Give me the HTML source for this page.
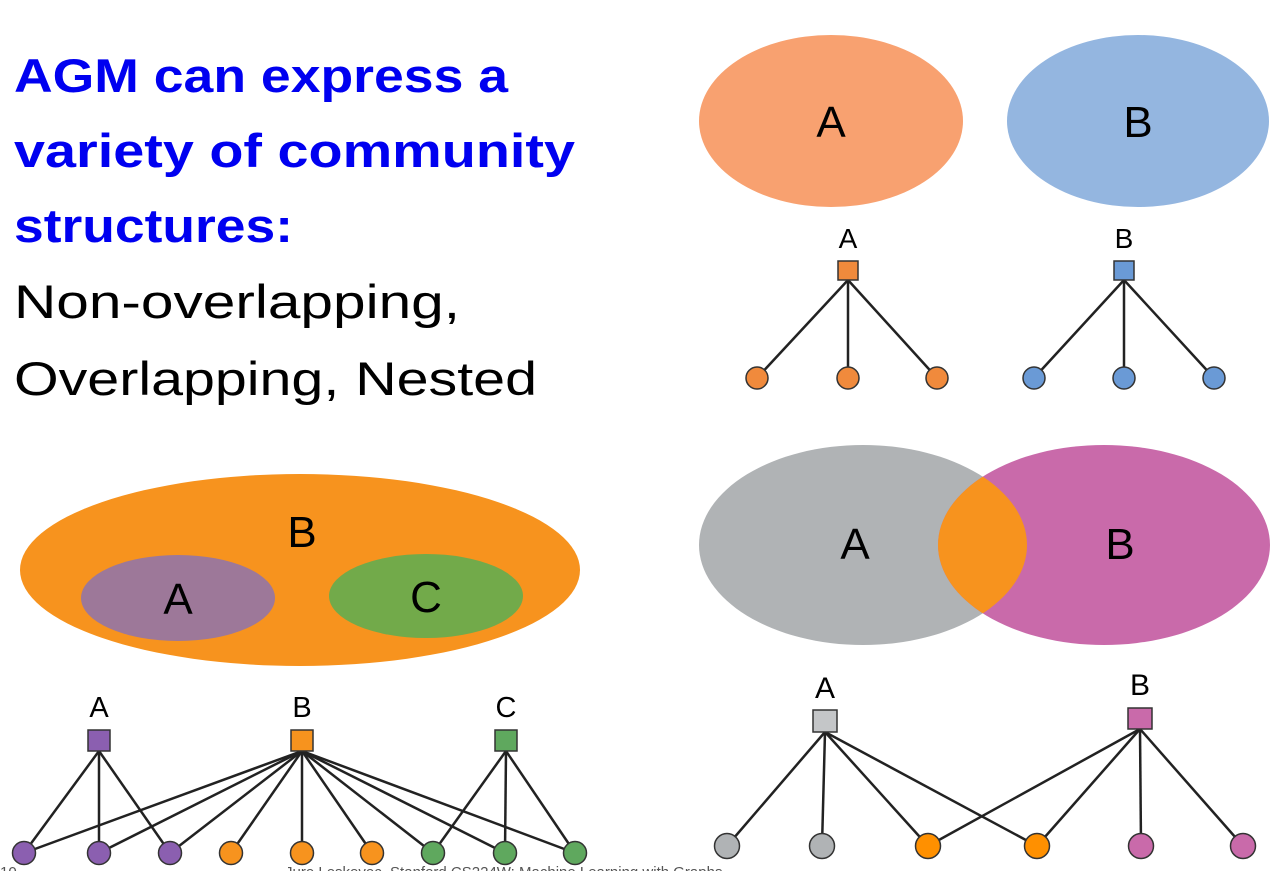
<!DOCTYPE html>
<html><head><meta charset="utf-8"><style>
html,body{margin:0;padding:0;background:#fff;}
svg{display:block;}
text{font-family:"Liberation Sans",sans-serif;}
</style></head><body>
<svg width="1276" height="871" viewBox="0 0 1276 871" xmlns="http://www.w3.org/2000/svg">
<defs>
<clipPath id="cA"><ellipse cx="863" cy="545" rx="164" ry="100"/></clipPath>
</defs>
<!-- Title -->
<g font-size="47" font-weight="bold" fill="#0000f0">
<text x="14" y="92" textLength="494" lengthAdjust="spacingAndGlyphs">AGM can express a</text>
<text x="14" y="167" textLength="561" lengthAdjust="spacingAndGlyphs">variety of community</text>
<text x="14" y="242" textLength="279" lengthAdjust="spacingAndGlyphs">structures:</text>
</g>
<g font-size="47" fill="#000">
<text x="14" y="318" textLength="446" lengthAdjust="spacingAndGlyphs">Non-overlapping,</text>
<text x="14" y="395" textLength="523" lengthAdjust="spacingAndGlyphs">Overlapping, Nested</text>
</g>

<!-- Top right: non-overlapping -->
<ellipse cx="831" cy="121" rx="132" ry="86" fill="#f8a170"/>
<ellipse cx="1138" cy="121" rx="131" ry="86" fill="#94b6e0"/>
<text x="831" y="137" font-size="44" text-anchor="middle">A</text>
<text x="1138" y="137" font-size="44" text-anchor="middle">B</text>
<text x="848" y="248" font-size="28" text-anchor="middle">A</text>
<text x="1124" y="248" font-size="28" text-anchor="middle">B</text>
<g stroke="#222" stroke-width="2.5">
<line x1="848" y1="280" x2="757" y2="378"/><line x1="848" y1="280" x2="848" y2="378"/><line x1="848" y1="280" x2="937" y2="378"/>
<line x1="1124" y1="280" x2="1034" y2="378"/><line x1="1124" y1="280" x2="1124" y2="378"/><line x1="1124" y1="280" x2="1214" y2="378"/>
</g>
<g stroke="#333" stroke-width="1.5">
<rect x="838" y="261" width="20" height="19" fill="#f08a3c"/>
<rect x="1114" y="261" width="20" height="19" fill="#6a9ad6"/>
<g fill="#f08a3c"><circle cx="757" cy="378" r="11"/><circle cx="848" cy="378" r="11"/><circle cx="937" cy="378" r="11"/></g>
<g fill="#6a9ad6"><circle cx="1034" cy="378" r="11"/><circle cx="1124" cy="378" r="11"/><circle cx="1214" cy="378" r="11"/></g>
</g>

<!-- Bottom left: nested -->
<ellipse cx="300" cy="570" rx="280" ry="96" fill="#f7931e"/>
<ellipse cx="178" cy="598" rx="97" ry="43" fill="#9d7899"/>
<ellipse cx="426" cy="596" rx="97" ry="42" fill="#72aa4a"/>
<text x="302" y="547" font-size="44" text-anchor="middle">B</text>
<text x="178" y="614" font-size="44" text-anchor="middle">A</text>
<text x="426" y="612" font-size="44" text-anchor="middle">C</text>
<text x="99" y="717" font-size="29" text-anchor="middle">A</text>
<text x="302" y="717" font-size="29" text-anchor="middle">B</text>
<text x="506" y="717" font-size="29" text-anchor="middle">C</text>
<g stroke="#222" stroke-width="2.5">
<line x1="99" y1="751" x2="24" y2="853"/><line x1="99" y1="751" x2="99" y2="853"/><line x1="99" y1="751" x2="170" y2="853"/>
<line x1="302" y1="751" x2="24" y2="853"/><line x1="302" y1="751" x2="99" y2="853"/><line x1="302" y1="751" x2="170" y2="853"/>
<line x1="302" y1="751" x2="231" y2="853"/><line x1="302" y1="751" x2="302" y2="853"/><line x1="302" y1="751" x2="372" y2="853"/>
<line x1="302" y1="751" x2="433" y2="853"/><line x1="302" y1="751" x2="505" y2="853"/><line x1="302" y1="751" x2="575" y2="853"/>
<line x1="506" y1="751" x2="433" y2="853"/><line x1="506" y1="751" x2="505" y2="853"/><line x1="506" y1="751" x2="575" y2="853"/>
</g>
<g stroke="#333" stroke-width="1.5">
<rect x="88" y="730" width="22" height="21" fill="#8b5fb0"/>
<rect x="291" y="730" width="22" height="21" fill="#f7931e"/>
<rect x="495" y="730" width="22" height="21" fill="#5fa85e"/>
<g fill="#8b5fb0"><circle cx="24" cy="853" r="11.5"/><circle cx="99" cy="853" r="11.5"/><circle cx="170" cy="853" r="11.5"/></g>
<g fill="#f7931e"><circle cx="231" cy="853" r="11.5"/><circle cx="302" cy="853" r="11.5"/><circle cx="372" cy="853" r="11.5"/></g>
<g fill="#5fa85e"><circle cx="433" cy="853" r="11.5"/><circle cx="505" cy="853" r="11.5"/><circle cx="575" cy="853" r="11.5"/></g>
</g>

<!-- Bottom right: overlapping -->
<ellipse cx="863" cy="545" rx="164" ry="100" fill="#b0b3b5"/>
<ellipse cx="1104" cy="545" rx="166" ry="100" fill="#c96aaa"/>
<ellipse cx="1104" cy="545" rx="166" ry="100" fill="#f7931e" clip-path="url(#cA)"/>
<text x="855" y="559" font-size="44" text-anchor="middle">A</text>
<text x="1120" y="559" font-size="44" text-anchor="middle">B</text>
<text x="825" y="698" font-size="30" text-anchor="middle">A</text>
<text x="1140" y="695" font-size="30" text-anchor="middle">B</text>
<g stroke="#222" stroke-width="2.5">
<line x1="825" y1="732" x2="727" y2="846"/><line x1="825" y1="732" x2="822" y2="846"/><line x1="825" y1="732" x2="928" y2="846"/><line x1="825" y1="732" x2="1037" y2="846"/>
<line x1="1140" y1="729" x2="928" y2="846"/><line x1="1140" y1="729" x2="1037" y2="846"/><line x1="1140" y1="729" x2="1141" y2="846"/><line x1="1140" y1="729" x2="1243" y2="846"/>
</g>
<g stroke="#333" stroke-width="1.5">
<rect x="813" y="710" width="24" height="22" fill="#c4c6c8"/>
<rect x="1128" y="708" width="24" height="21" fill="#c96aaa"/>
<g fill="#b0b3b5"><circle cx="727" cy="846" r="12.5"/><circle cx="822" cy="846" r="12.5"/></g>
<g fill="#ff9000"><circle cx="928" cy="846" r="12.5"/><circle cx="1037" cy="846" r="12.5"/></g>
<g fill="#c96aaa"><circle cx="1141" cy="846" r="12.5"/><circle cx="1243" cy="846" r="12.5"/></g>
</g>

<!-- Footer -->
<text x="0" y="877" font-size="15" fill="#555">10</text>
<text x="285" y="877" font-size="15" fill="#555">Jure Leskovec, Stanford CS224W: Machine Learning with Graphs</text>
</svg>
</body></html>
